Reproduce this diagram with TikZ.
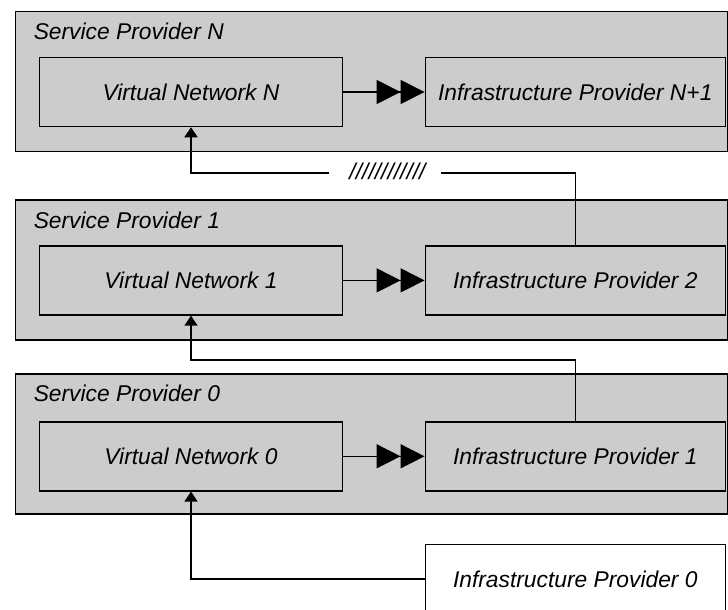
\documentclass[tikz,border=0pt]{standalone}
\usepackage{fontspec}
\setmainfont{Liberation Sans}
\usetikzlibrary{arrows.meta}
\definecolor{spgray}{RGB}{204,204,204}
\newcommand{\boxfont}{\fontsize{22.8}{26}\selectfont\itshape}
\begin{document}
\begin{tikzpicture}[x=1pt,y=-1pt,line width=1.5pt]
\tikzstyle{sp}=[draw, fill=spgray, minimum width=712pt, minimum height=140pt, inner sep=0pt]
\tikzstyle{box}=[draw, minimum height=69pt, inner sep=0pt, font=\boxfont]
\tikzstyle{vnet}=[box, minimum width=303pt]
\tikzstyle{infra}=[box, minimum width=300pt]
\tikzstyle{splabel}=[anchor=base west, inner sep=0pt, font=\boxfont]
\tikzstyle{link}=[-{Triangle[length=10pt,width=13pt]}]
\tikzstyle{dbl}=[-{Triangle[length=24pt,width=24pt,sep=0pt]Triangle[length=24pt,width=24pt]}]
\useasboundingbox (0,0) rectangle (728,610);
\clip (0,0) rectangle (728,610);

% service providers
\node [sp] (spN) at (371.6, 81.7) {};
\node [sp] (sp1) at (371.6, 270.2) {};
\node [sp] (sp0) at (371.6, 444.2) {};
\node [splabel] (lN) at (33, 39.3) {Service Provider N};
\node [splabel] (l1) at (33, 228) {Service Provider 1};
\node [splabel] (l0) at (33, 401.7) {Service Provider 0};

% virtual networks and infrastructure providers
\node [vnet, fill=spgray] (vnN) at (191, 92) {Virtual Network N};
\node [vnet, fill=spgray] (vn1) at (191, 280.4) {Virtual Network 1};
\node [vnet, fill=spgray] (vn0) at (191, 456.3) {Virtual Network 0};
\node [infra, fill=spgray] (ipN) at (575.3, 92) {Infrastructure Provider N+1};
\node [infra, fill=spgray] (ip2) at (575.3, 280.4) {Infrastructure Provider 2};
\node [infra, fill=spgray] (ip1) at (575.3, 456.3) {Infrastructure Provider 1};
\node [infra, fill=white] (ip0) at (575.3, 579) {Infrastructure Provider 0};

\draw [dbl] (vnN) -- (ipN);
\draw [dbl] (vn1) -- (ip2);
\draw [dbl] (vn0) -- (ip1);

% recursion between the layers
\node [inner sep=0pt, font=\boxfont] (brk) at (387.5, 171.5) {////////////};
\coordinate (gapL) at (329, 173);
\coordinate (gapR) at (441, 173);
\coordinate (turn1) at (191, 360);
\draw [link] (gapL) -| (vnN.south);
\draw (ip2.north) |- (gapR);
\draw [link] (ip1.north) |- (turn1) -- (vn1.south);
\draw [link] (ip0.west) -| (vn0.south);
\end{tikzpicture}
\end{document}
